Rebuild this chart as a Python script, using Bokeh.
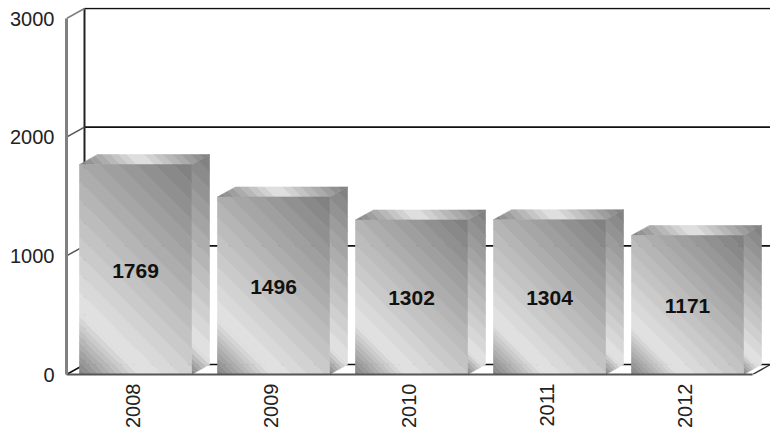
from bokeh.plotting import figure
from bokeh.models import ColumnDataSource, FixedTicker
from bokeh.core.properties import value
from bokeh.embed import file_html
from bokeh.resources import INLINE

years = ["2008", "2009", "2010", "2011", "2012"]
counts = [1769, 1496, 1302, 1304, 1171]
y_ticks = [0, 1000, 2000, 3000]

PX_X = 138.0
PX_Y = 356 / 3000
DX = 18 / PX_X
DY = 10 / PX_Y
HALF = 56 / PX_X
LABEL_SHIFT = 3 / PX_X
DARK, LIGHT, END = 128, 228, 126


def grey(t, peak):
    if t < peak:
        c = DARK + (LIGHT - DARK) * t / peak
    else:
        c = LIGHT - (LIGHT - END) * (t - peak) / (1 - peak)
    c = int(round(c))
    return f"#{c:02x}{c:02x}{c:02x}"


def clip(poly, fn, keep_above, level):
    out = []
    for i, a in enumerate(poly):
        b = poly[(i + 1) % len(poly)]
        fa, fb = fn(a) - level, fn(b) - level
        if not keep_above:
            fa, fb = -fa, -fb
        if fa >= 0:
            out.append(a)
        if fa * fb < 0:
            s = fa / (fa - fb)
            out.append((a[0] + s * (b[0] - a[0]), a[1] + s * (b[1] - a[1])))
    return out


xs, ys, cols = [], [], []


def face(poly, peak, rise, fall):
    fn = lambda q: q[0] * PX_X + q[1] * PX_Y
    vals = [fn(q) for q in poly]
    lo, hi = min(vals), max(vals)
    edges = [peak * k / rise for k in range(rise)] + [peak + (1 - peak) * k / fall for k in range(fall + 1)]
    for t0, t1 in zip(edges[:-1], edges[1:]):
        a = lo + (hi - lo) * t0
        b = lo + (hi - lo) * t1
        part = clip(clip(poly, fn, True, a), fn, False, b)
        if len(part) >= 3:
            xs.append([q[0] for q in part])
            ys.append([q[1] for q in part])
            cols.append(grey((t0 + t1) / 2, peak))


for i, v in enumerate(counts):
    l, r = i - HALF, i + HALF
    face([(r, 0), (r + DX, DY), (r + DX, v + DY), (r, v)], 0.14, 6, 12)
    face([(l, v), (r, v), (r + DX, v + DY), (l + DX, v + DY)], 0.47, 8, 8)
    face([(l, 0), (r, 0), (r, v), (l, v)], 0.2, 10, 14)

LEFT = -69 / PX_X
RIGHT = 635 / PX_X
FLOOR_END = 617 / PX_X

p = figure(width=770, height=433, output_backend="svg", toolbar_location=None,
           x_range=(LEFT, RIGHT), y_range=(0, 367 / PX_Y),
           min_border_left=66, min_border_right=0, min_border_top=7, min_border_bottom=59)
p.outline_line_color = None
p.grid.visible = False
p.background_fill_color = "white"

back_x0 = LEFT + DX
p.segment(x0=[back_x0] * len(y_ticks), y0=[t + DY for t in y_ticks],
          x1=[RIGHT] * len(y_ticks), y1=[t + DY for t in y_ticks],
          line_color="#111111", line_width=1.6)
p.segment(x0=[back_x0], y0=[DY], x1=[back_x0], y1=[3000 + DY], line_color="#222222", line_width=2)
p.segment(x0=[LEFT] * len(y_ticks), y0=y_ticks, x1=[back_x0] * len(y_ticks), y1=[t + DY for t in y_ticks],
          line_color=["#111111", "#555555", "#555555", "#808080"], line_width=1.6)
p.segment(x0=[FLOOR_END], y0=[0], x1=[RIGHT], y1=[DY], line_color="#333333", line_width=1.4)

src = ColumnDataSource(dict(xs=xs, ys=ys, c=cols))
p.patches("xs", "ys", source=src, fill_color="c", line_color="c", line_width=0.6)

p.text(x=list(range(len(counts))), y=[v / 2 - 9 for v in counts], text=[str(v) for v in counts],
       text_font=value("Liberation Sans"), text_font_style="bold", text_font_size="21px",
       text_color="#111111", text_align="center", text_baseline="middle")

xa = p.xaxis[0]
tick_pos = [i - LABEL_SHIFT for i in range(len(years))]
xa.ticker = FixedTicker(ticks=tick_pos)
xa.major_label_overrides = {t: y for t, y in zip(tick_pos, years)}
xa.major_label_orientation = 1.5708
xa.major_label_standoff = 3
xa.major_tick_line_color = None
xa.minor_tick_line_color = None
xa.axis_line_color = "#555555"
xa.axis_line_width = 2
xa.bounds = (LEFT, FLOOR_END)
xa.major_label_text_font = "Liberation Sans"
xa.major_label_text_font_size = "20px"
xa.major_label_text_color = "#222222"

ya = p.yaxis[0]
ya.ticker = FixedTicker(ticks=y_ticks)
ya.major_label_standoff = 6
ya.major_tick_line_color = None
ya.minor_tick_line_color = None
ya.axis_line_color = "#808080"
ya.axis_line_width = 3
ya.bounds = (0, 3000)
ya.major_label_text_font = "Liberation Sans"
ya.major_label_text_font_size = "20px"
ya.major_label_text_color = "#222222"

open("out.html", "w").write(file_html(p, INLINE))
